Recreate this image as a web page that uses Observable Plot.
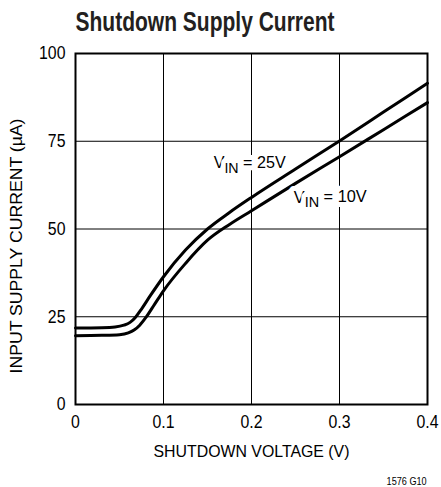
<!DOCTYPE html>
<html>
<head>
<meta charset="utf-8">
<script src="https://cdn.jsdelivr.net/npm/d3@7"></script>
<script src="https://cdn.jsdelivr.net/npm/@observablehq/plot@0.6"></script>
<style>
  html, body { margin: 0; padding: 0; background: #fff; }
  #chart svg { display: block; }
</style>
</head>
<body>
<div id="chart"></div>
<script>
// ---- Data ----
const xTicks = [0, 0.1, 0.2, 0.3, 0.4];
const yTicks = [0, 25, 50, 75, 100];

// V_IN = 25V (upper curve)
const v25Voltage = [0, 0.03, 0.045, 0.055, 0.062, 0.068, 0.075, 0.085, 0.1, 0.125, 0.15, 0.175, 0.2, 0.25, 0.3, 0.35, 0.4];
const v25Current = [21.8, 21.9, 22.1, 22.6, 23.4, 24.8, 27.2, 31.0, 36.4, 44.0, 50.0, 54.7, 59.0, 67.1, 75.1, 83.3, 91.5];

// V_IN = 10V (lower curve)
const v10Voltage = [0, 0.03, 0.05, 0.06, 0.067, 0.073, 0.08, 0.09, 0.1, 0.125, 0.15, 0.175, 0.2, 0.25, 0.3, 0.35, 0.4];
const v10Current = [19.6, 19.7, 19.9, 20.4, 21.3, 22.6, 24.8, 28.6, 32.4, 40.2, 46.8, 51.3, 55.2, 63.0, 70.6, 78.3, 86.0];

// curve labels
const labelText = ["VIN = 25V", "VIN = 10V"];
const labelVoltage = [0.157, 0.248];
const labelCurrent = [68.9, 59.1];

const titleText = "Shutdown Supply Current";
const xLabel = "SHUTDOWN VOLTAGE (V)";
const yLabel = "INPUT SUPPLY CURRENT (µA)";
const footText = "1576 G10";

const series25 = v25Voltage.map((x, i) => ({x, y: v25Current[i]}));
const series10 = v10Voltage.map((x, i) => ({x, y: v10Current[i]}));
const labels = labelText.map((t, i) => ({t, x: labelVoltage[i], y: labelCurrent[i]}));

const FONT = "'Liberation Sans', Arial, sans-serif";
const M = {left: 75, right: 14, top: 53, bottom: 83};
const W = 441, H = 487;

const chart = Plot.plot({
  width: W,
  height: H,
  marginLeft: M.left,
  marginRight: M.right,
  marginTop: M.top,
  marginBottom: M.bottom,
  style: {fontFamily: FONT, fontSize: "17px", color: "#000", background: "#fff", overflow: "visible"},
  x: {domain: [0, 0.4], label: null},
  y: {domain: [0, 100], label: null},
  marks: [
    Plot.gridX(xTicks, {stroke: "#000", strokeOpacity: 1, strokeWidth: 1}),
    Plot.gridY(yTicks, {stroke: "#000", strokeOpacity: 1, strokeWidth: 1}),
    Plot.axisX(xTicks, {tickSize: 0, tickPadding: 11, fontSize: 18, tickFormat: d => d === 0 ? "0" : d3.format(".1f")(d), label: null}),
    Plot.axisY(yTicks, {tickSize: 0, tickPadding: 10, fontSize: 18, label: null}),
    Plot.line(series25, {x: "x", y: "y", curve: "monotone-x", stroke: "#000", strokeWidth: 3}),
    Plot.line(series10, {x: "x", y: "y", curve: "monotone-x", stroke: "#000", strokeWidth: 3}),
    Plot.text(labels, {x: "x", y: "y", text: "t", textAnchor: "start", lineAnchor: "middle", fontSize: 17, fill: "#000", stroke: "#fff", strokeWidth: 10}),
    Plot.frame({stroke: "#000", strokeWidth: 2}),
    Plot.text([titleText], {frameAnchor: "top-left", text: d => d, textAnchor: "start", lineAnchor: "middle", dy: -31, fontSize: 28, fontWeight: "bold", fill: "#231f20"}),
    Plot.text([xLabel], {frameAnchor: "bottom", text: d => d, textAnchor: "middle", lineAnchor: "middle", dy: 47, fontSize: 17}),
    Plot.text([yLabel], {frameAnchor: "left", text: d => d, rotate: -90, textAnchor: "middle", lineAnchor: "middle", dx: -59, dy: 17, fontSize: 17}),
    Plot.text([footText], {frameAnchor: "bottom-right", text: d => d, textAnchor: "end", lineAnchor: "middle", dy: 77, fontSize: 10})
  ]
});

// Subscript "IN" in the curve labels
d3.select(chart).selectAll("text").each(function() {
  const el = d3.select(this);
  const s = el.text();
  if (s.startsWith("VIN")) {
    const rest = s.slice(3);
    el.text(null);
    el.append("tspan").text("V");
    el.append("tspan").attr("dy", "0.3em").attr("font-size", "15px").text("IN");
    el.append("tspan").attr("dy", "-0.3em").text(rest);
  }
});

document.getElementById("chart").append(chart);

// Condensed lettering (the reference uses a condensed sans): squeeze each text horizontally
const targetWidth = new Map([
  [titleText, 259],
  [xLabel, 196],
  [yLabel, 255],
  [footText, 40],
  ["VIN = 25V", 72],
  ["VIN = 10V", 73]
]);
d3.select(chart).selectAll("text").each(function() {
  if (this.querySelector("text")) return;
  const s = this.textContent;
  const natural = this.getComputedTextLength();
  if (!natural) return;
  const w = targetWidth.has(s) ? targetWidth.get(s) : natural * 0.88;
  this.setAttribute("textLength", w);
  this.setAttribute("lengthAdjust", "spacingAndGlyphs");
});

// keep the footnote's right edge on the frame's right edge (screen-space measurement)
const svgRect = chart.getBoundingClientRect();
d3.select(chart).selectAll("text").each(function() {
  if (this.textContent !== footText) return;
  const r = this.getBoundingClientRect();
  const frameRight = W - M.right;
  const shift = frameRight - (r.right - svgRect.left);
  if (Math.abs(shift) > 0.5 && Math.abs(shift) < 60) {
    const x0 = +(this.getAttribute("x") || 0);
    this.setAttribute("x", x0 + shift);
  }
});
</script>
</body>
</html>
